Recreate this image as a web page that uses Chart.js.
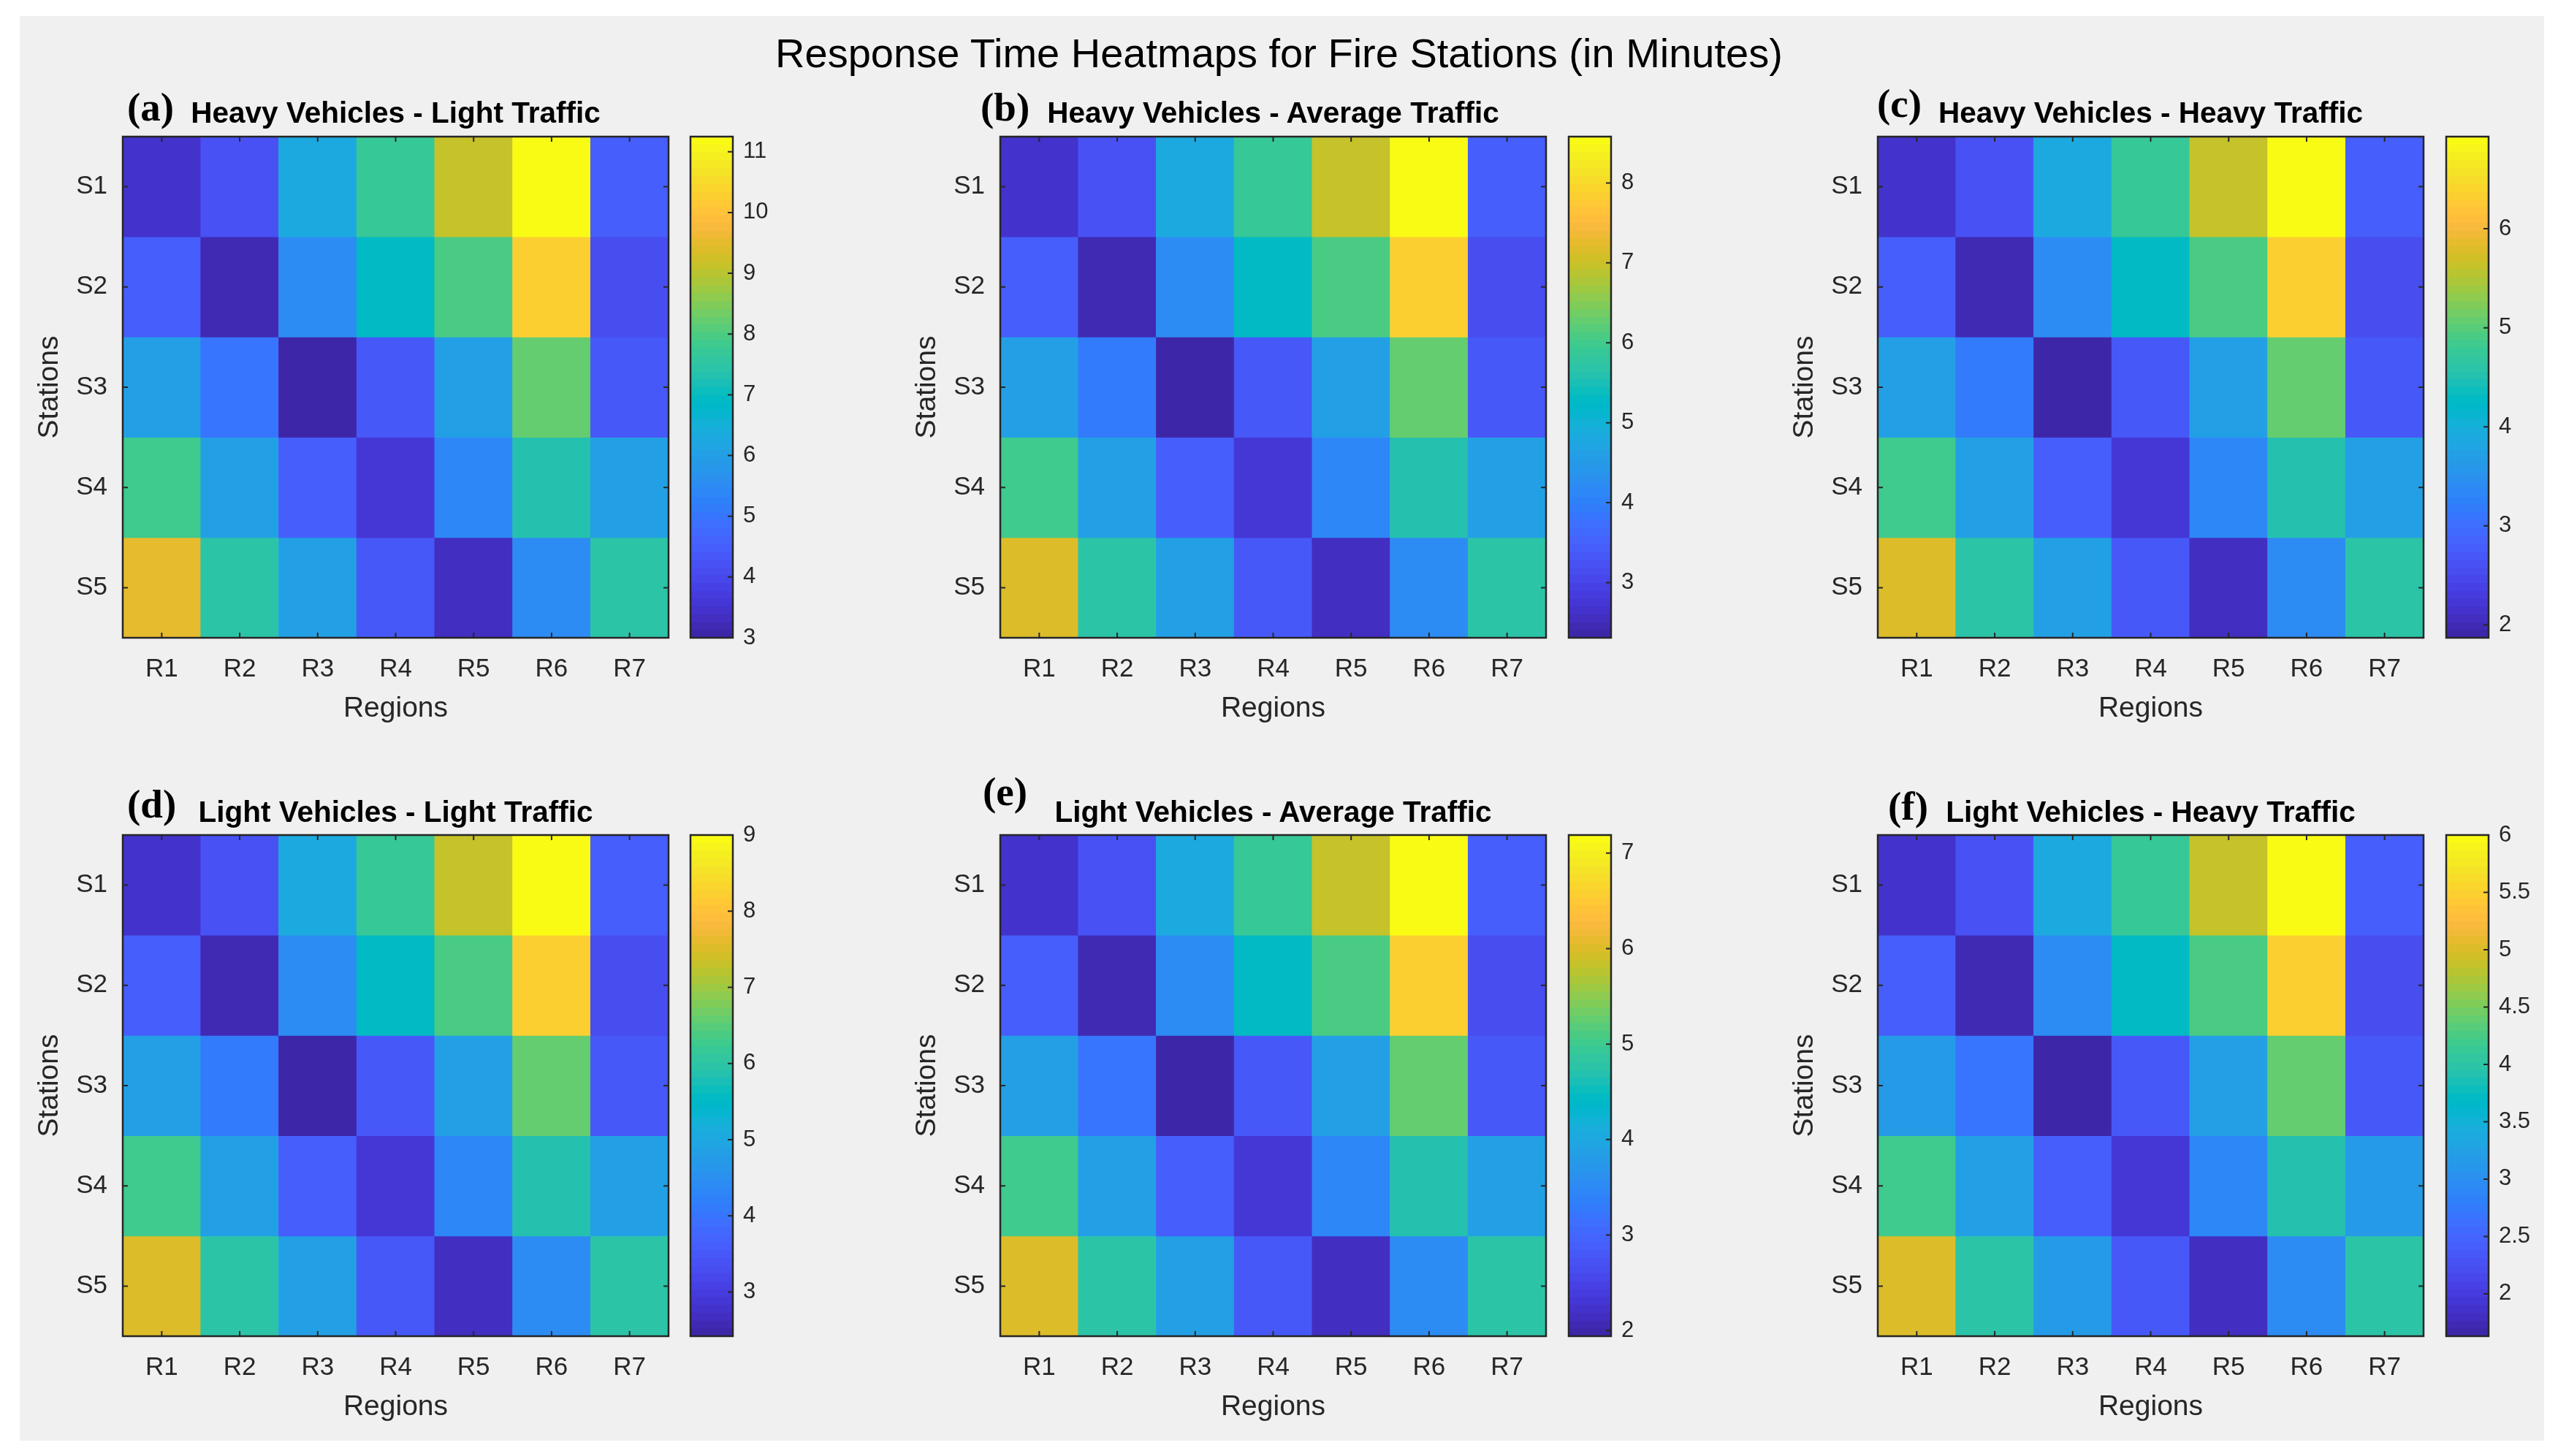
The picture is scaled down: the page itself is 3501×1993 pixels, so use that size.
<!DOCTYPE html>
<html>
<head>
<meta charset="utf-8">
<script src="https://cdn.jsdelivr.net/npm/chart.js@4.4.1/dist/chart.umd.min.js"></script>
<style>
html, body { margin: 0; padding: 0; background: #fff; }
#page { position: relative; width: 3501px; height: 1993px; overflow: hidden; font-family: 'Liberation Sans', Arial, sans-serif; }
#frame { position: absolute; left: 27px; top: 22px; width: 3455px; height: 1950px; background: #f0f0f0; }
.abs { position: absolute; white-space: nowrap; line-height: 1; }
#title { left: 0; width: 3501px; top: 45px; text-align: center; font-size: 56px; color: #000; }
.ptitle { font-weight: bold; font-size: 40.5px; color: #000; transform: translateX(-50%); }
.letter { font-family: 'Liberation Serif', 'Times New Roman', serif; font-weight: bold; font-size: 55px; color: #000; }
canvas { position: absolute; }
</style>
</head>
<body>
<div id="page">
  <div id="frame"></div>
  <div id="title" class="abs">Response Time Heatmaps for Fire Stations (in Minutes)</div>
</div>
<script>
const stations = ['S1', 'S2', 'S3', 'S4', 'S5'];
const regions = ['R1', 'R2', 'R3', 'R4', 'R5', 'R6', 'R7'];

// minutes, one row per station
const heavyLight = [
	[3.50, 4.24, 6.30, 7.70, 9.11, 11.25, 4.49],
	[4.49, 3.25, 5.56, 6.88, 7.95, 10.26, 4.07],
	[5.97, 5.06, 3.00, 4.40, 6.05, 8.20, 4.32],
	[7.79, 6.05, 4.49, 3.58, 5.39, 7.29, 5.97],
	[9.45, 7.46, 5.97, 4.32, 3.33, 5.48, 7.46],
];
const heavyAverage = [
	[2.69, 3.25, 4.82, 5.88, 6.95, 8.58, 3.44],
	[3.44, 2.50, 4.25, 5.26, 6.07, 7.83, 3.13],
	[4.57, 3.88, 2.31, 3.38, 4.63, 6.26, 3.31],
	[5.95, 4.63, 3.44, 2.75, 4.13, 5.57, 4.57],
	[7.20, 5.70, 4.57, 3.31, 2.56, 4.19, 5.70],
];
const heavyHeavy = [
	[2.17, 2.63, 3.89, 4.75, 5.61, 6.93, 2.78],
	[2.78, 2.02, 3.44, 4.25, 4.91, 6.32, 2.53],
	[3.69, 3.14, 1.87, 2.73, 3.74, 5.06, 2.68],
	[4.80, 3.74, 2.78, 2.22, 3.34, 4.50, 3.69],
	[5.82, 4.60, 3.69, 2.68, 2.07, 3.39, 4.60],
];
const lightLight = [
	[2.81, 3.41, 5.05, 6.17, 7.29, 9.00, 3.60],
	[3.60, 2.62, 4.46, 5.51, 6.37, 8.21, 3.28],
	[4.79, 4.07, 2.42, 3.54, 4.85, 6.57, 3.47],
	[6.24, 4.85, 3.60, 2.88, 4.33, 5.84, 4.79],
	[7.55, 5.97, 4.79, 3.47, 2.68, 4.39, 5.97],
];
const lightAverage = [
	[2.26, 2.73, 4.04, 4.93, 5.83, 7.19, 2.89],
	[2.89, 2.10, 3.57, 4.41, 5.09, 6.56, 2.62],
	[3.83, 3.25, 1.94, 2.83, 3.88, 5.25, 2.78],
	[4.99, 3.88, 2.89, 2.31, 3.46, 4.67, 3.83],
	[6.04, 4.78, 3.83, 2.78, 2.15, 3.52, 4.78],
];
const lightHeavy = [
	[1.89, 2.29, 3.38, 4.12, 4.86, 6.00, 2.42],
	[2.42, 1.76, 2.98, 3.68, 4.25, 5.48, 2.20],
	[3.20, 2.72, 1.63, 2.37, 3.25, 4.38, 2.33],
	[4.16, 3.25, 2.42, 1.94, 2.90, 3.90, 3.20],
	[5.04, 3.99, 3.20, 2.33, 1.80, 2.94, 3.99],
];

const panelData = [heavyLight, heavyAverage, heavyHeavy, lightLight, lightAverage, lightHeavy];
const panelTitles = [
	'Heavy Vehicles - Light Traffic', 'Heavy Vehicles - Average Traffic', 'Heavy Vehicles - Heavy Traffic',
	'Light Vehicles - Light Traffic', 'Light Vehicles - Average Traffic', 'Light Vehicles - Heavy Traffic',
];
const panelLetters = ['(a)', '(b)', '(c)', '(d)', '(e)', '(f)'];
const colorbarTicks = [
	[3, 4, 5, 6, 7, 8, 9, 10, 11],
	[3, 4, 5, 6, 7, 8],
	[2, 3, 4, 5, 6],
	[3, 4, 5, 6, 7, 8, 9],
	[2, 3, 4, 5, 6, 7],
	[2, 2.5, 3, 3.5, 4, 4.5, 5, 5.5, 6],
];

// matlab parula, 64 entries
const parula = [
	[0.2422, 0.1504, 0.6603], [0.2504, 0.1650, 0.7076], [0.2578, 0.1818, 0.7511], [0.2647, 0.1978, 0.7952],
	[0.2706, 0.2147, 0.8364], [0.2751, 0.2342, 0.8710], [0.2783, 0.2559, 0.8991], [0.2803, 0.2782, 0.9221],
	[0.2813, 0.3006, 0.9414], [0.2810, 0.3228, 0.9579], [0.2795, 0.3447, 0.9717], [0.2760, 0.3667, 0.9829],
	[0.2699, 0.3892, 0.9906], [0.2602, 0.4123, 0.9952], [0.2440, 0.4358, 0.9988], [0.2206, 0.4603, 0.9973],
	[0.1963, 0.4847, 0.9892], [0.1834, 0.5074, 0.9798], [0.1786, 0.5289, 0.9682], [0.1764, 0.5499, 0.9520],
	[0.1687, 0.5703, 0.9359], [0.1540, 0.5902, 0.9218], [0.1460, 0.6091, 0.9079], [0.1380, 0.6276, 0.8973],
	[0.1248, 0.6459, 0.8883], [0.1113, 0.6635, 0.8763], [0.0952, 0.6798, 0.8598], [0.0689, 0.6948, 0.8394],
	[0.0297, 0.7082, 0.8163], [0.0036, 0.7203, 0.7917], [0.0067, 0.7312, 0.7660], [0.0433, 0.7411, 0.7394],
	[0.0964, 0.7500, 0.7120], [0.1408, 0.7584, 0.6842], [0.1717, 0.7670, 0.6554], [0.1938, 0.7758, 0.6251],
	[0.2161, 0.7843, 0.5923], [0.2470, 0.7918, 0.5567], [0.2906, 0.7973, 0.5188], [0.3406, 0.8008, 0.4789],
	[0.3909, 0.8029, 0.4354], [0.4456, 0.8024, 0.3909], [0.5044, 0.7993, 0.3480], [0.5616, 0.7942, 0.3045],
	[0.6174, 0.7876, 0.2612], [0.6720, 0.7793, 0.2227], [0.7242, 0.7698, 0.1910], [0.7738, 0.7598, 0.1646],
	[0.8203, 0.7498, 0.1535], [0.8634, 0.7406, 0.1596], [0.9035, 0.7330, 0.1774], [0.9393, 0.7288, 0.2100],
	[0.9728, 0.7298, 0.2394], [0.9956, 0.7434, 0.2371], [0.9970, 0.7659, 0.2199], [0.9952, 0.7893, 0.2028],
	[0.9892, 0.8136, 0.1885], [0.9786, 0.8386, 0.1766], [0.9676, 0.8639, 0.1643], [0.9610, 0.8890, 0.1537],
	[0.9597, 0.9135, 0.1423], [0.9628, 0.9373, 0.1265], [0.9691, 0.9606, 0.1064], [0.9769, 0.9839, 0.0805],
];

function rgb(c) {
	return `rgb(${Math.round(c[0] * 255)}, ${Math.round(c[1] * 255)}, ${Math.round(c[2] * 255)})`;
}

// same as imagesc scaled mapping
function colorFor(v, lo, hi) {
	const idx = Math.min(parula.length - 1, Math.max(0, Math.floor((v - lo) / (hi - lo) * parula.length)));
	return rgb(parula[idx]);
}

// layout, in page pixels
const plotLeft = [168, 1369, 2570];
const plotTop = [187, 1143];
const plotW = 747;
const plotH = 686;
const cbLeft = [945, 2147, 3348];
const cbW = 58;
const titleBase = [168, 1125];
const letterLeft = [[174, 1342, 2569], [174, 1345, 2584]];
const letterBase = [[165, 165, 160], [1119, 1102, 1122]];
const padTop = 50; // room for tick label overflow so chart area stays put

const inkColor = '#262626';
Chart.defaults.font.family = "'Liberation Sans', Arial, sans-serif";
Chart.defaults.color = inkColor;

// box + inward ticks like matlab axes
const matlabAxes = {
	id: 'matlabAxes',
	afterDatasetsDraw(chart, args, opts) {
		const { ctx, chartArea: a } = chart;
		const len = 7;
		ctx.save();
		ctx.strokeStyle = inkColor;
		ctx.lineWidth = 2;
		ctx.beginPath();
		const y = chart.scales.y;
		y.ticks.forEach((t, i) => {
			const py = y.getPixelForTick(i);
			ctx.moveTo(a.right, py);
			ctx.lineTo(a.right - len, py);
			if (!opts.colorbar) {
				ctx.moveTo(a.left, py);
				ctx.lineTo(a.left + len, py);
			}
		});
		if (!opts.colorbar) {
			const x = chart.scales.x;
			x.ticks.forEach((t, i) => {
				const px = x.getPixelForTick(i);
				ctx.moveTo(px, a.bottom);
				ctx.lineTo(px, a.bottom - len);
				ctx.moveTo(px, a.top);
				ctx.lineTo(px, a.top + len);
			});
		}
		ctx.stroke();
		ctx.lineWidth = 2.5;
		ctx.strokeRect(a.left, a.top, a.width, a.height);
		ctx.restore();
	},
};

const page = document.getElementById('page');

function addCanvas(left, top, w, h) {
	const c = document.createElement('canvas');
	c.width = w;
	c.height = h;
	c.style.left = left + 'px';
	c.style.top = top + 'px';
	c.style.width = w + 'px';
	c.style.height = h + 'px';
	page.appendChild(c);
	return c;
}

function addText(cls, text, left, top) {
	const d = document.createElement('div');
	d.className = 'abs ' + cls;
	d.textContent = text;
	d.style.left = left + 'px';
	d.style.top = top + 'px';
	page.appendChild(d);
}

function makeHeatmap(canvas, values) {
	const flat = values.flat();
	const lo = Math.min(...flat);
	const hi = Math.max(...flat);
	return new Chart(canvas, {
		type: 'bar',
		data: {
			labels: regions,
			datasets: stations.map((s, i) => ({
				label: s,
				data: regions.map(() => [i, i + 1]),
				backgroundColor: values[i].map((v) => colorFor(v, lo, hi)),
				borderWidth: 0,
				barPercentage: 1,
				categoryPercentage: 1,
				grouped: false,
			})),
		},
		options: {
			responsive: false,
			animation: false,
			layout: { padding: { top: padTop, right: 10, bottom: 0, left: 0 } },
			plugins: {
				legend: { display: false },
				tooltip: { enabled: false },
				matlabAxes: {},
			},
			scales: {
				x: {
					type: 'category',
					grid: { display: false, drawTicks: false },
					border: { display: false },
					ticks: { color: inkColor, font: { size: 35 }, padding: 22, maxRotation: 0, autoSkip: false },
					title: { display: true, text: 'Regions', color: inkColor, font: { size: 39 }, padding: { top: 0, bottom: 9 } },
					afterFit: (s) => { s.height = 130; },
				},
				y: {
					type: 'linear',
					min: 0,
					max: 5,
					reverse: true,
					grid: { display: false, drawTicks: false },
					border: { display: false },
					afterBuildTicks: (s) => { s.ticks = stations.map((_, i) => ({ value: i + 0.5 })); },
					ticks: { color: inkColor, font: { size: 35 }, padding: 21, autoSkip: false, callback: (v) => stations[Math.floor(v)] },
					title: { display: true, text: 'Stations', color: inkColor, font: { size: 39 }, padding: { top: 17, bottom: 0 } },
					afterFit: (s) => { s.width = 140; },
				},
			},
		},
		plugins: [matlabAxes],
	});
}

function colorbarFill(chart) {
	const a = chart.chartArea;
	if (!a) return rgb(parula[0]);
	const g = chart.ctx.createLinearGradient(0, a.bottom, 0, a.top);
	const n = parula.length;
	parula.forEach((c, i) => {
		g.addColorStop(i / n, rgb(c));
		g.addColorStop((i + 1) / n, rgb(c));
	});
	return g;
}

function makeColorbar(canvas, values, ticks) {
	const flat = values.flat();
	const lo = Math.min(...flat);
	const hi = Math.max(...flat);
	return new Chart(canvas, {
		type: 'bar',
		data: {
			labels: [''],
			datasets: [{
				data: [[lo, hi]],
				backgroundColor: (c) => colorbarFill(c.chart),
				borderWidth: 0,
				barPercentage: 1,
				categoryPercentage: 1,
			}],
		},
		options: {
			responsive: false,
			animation: false,
			layout: { padding: { top: padTop, right: 0, bottom: padTop, left: 10 } },
			plugins: {
				legend: { display: false },
				tooltip: { enabled: false },
				matlabAxes: { colorbar: true },
			},
			scales: {
				x: { display: false },
				y: {
					position: 'right',
					min: lo,
					max: hi,
					grid: { display: false, drawTicks: false },
					border: { display: false },
					afterBuildTicks: (s) => { s.ticks = ticks.map((v) => ({ value: v })); },
					ticks: { color: inkColor, font: { size: 31 }, padding: 14, autoSkip: false, callback: (v) => String(v) },
					afterFit: (s) => { s.width = 90; },
				},
			},
		},
		plugins: [matlabAxes],
	});
}

panelData.forEach((values, p) => {
	const row = Math.floor(p / 3);
	const col = p % 3;
	const px = plotLeft[col];
	const py = plotTop[row];

	makeHeatmap(addCanvas(px - 140, py - padTop, 140 + plotW + 10, padTop + plotH + 130), values);
	makeColorbar(addCanvas(cbLeft[col] - 10, py - padTop, 10 + cbW + 90, padTop + plotH + padTop), values, colorbarTicks[p]);

	addText('ptitle', panelTitles[p], px + plotW / 2, titleBase[row] - 34);
	addText('letter', panelLetters[p], letterLeft[row][col], letterBase[row][col] - 46);
});
</script>
</body>
</html>
